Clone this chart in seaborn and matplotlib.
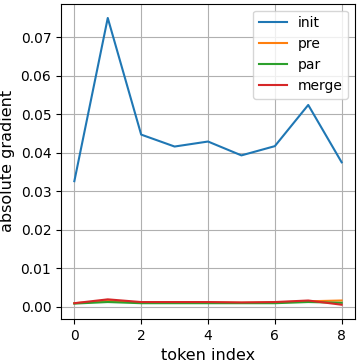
import numpy as np
import pandas as pd
import matplotlib
matplotlib.use("Agg")
import matplotlib.pyplot as plt
import seaborn as sns

tokens = list(range(9))
init = [0.0326, 0.0750, 0.0447, 0.0416, 0.0429, 0.0393, 0.0417, 0.0524, 0.0375]
pre = [0.0009, 0.0015, 0.0011, 0.0011, 0.0011, 0.0010, 0.0011, 0.0014, 0.0016]
par = [0.0008, 0.0012, 0.0009, 0.0009, 0.0009, 0.0009, 0.0009, 0.0012, 0.0010]
merge = [0.0009, 0.0019, 0.0012, 0.0012, 0.0012, 0.0011, 0.0012, 0.0016, 0.0005]

series = {"init": init, "pre": pre, "par": par, "merge": merge}
df = pd.DataFrame([
    {"token": t, "value": v, "method": name}
    for name, vals in series.items()
    for t, v in zip(tokens, vals)
])

fig, ax = plt.subplots(figsize=(3.63, 3.63), dpi=100)
sns.lineplot(data=df, x="token", y="value", hue="method",
             palette=["#1f77b4", "#ff7f0e", "#2ca02c", "#d62728"], ax=ax)

ax.set_xlabel("token index", fontsize=11.5)
ax.set_ylabel("absolute gradient", fontsize=11.5)
ax.set_xticks([0, 2, 4, 6, 8])
ax.grid(True)
ax.legend(loc="upper right", fontsize=10)

plt.subplots_adjust(left=0.168, right=0.978, top=0.99, bottom=0.121)
plt.savefig("out.png", dpi=100)
